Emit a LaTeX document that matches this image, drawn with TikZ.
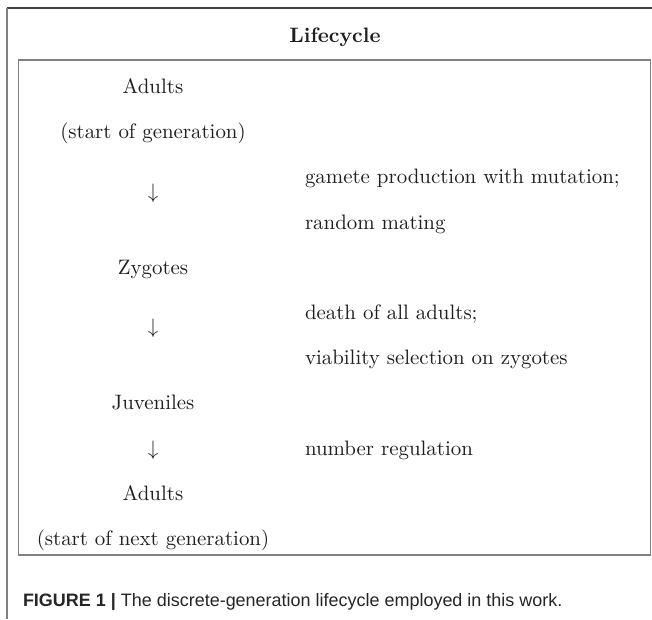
\documentclass[tikz,border=0pt]{standalone}
\usepackage{fontspec}
\newfontfamily\capfont{Liberation Sans}
\begin{document}
\begin{tikzpicture}[x=0.4785pt,y=-0.4785pt,
  every node/.style={inner sep=0pt, outer sep=0pt, text=black!88},
  stage/.style={anchor=base},
  note/.style={anchor=base west},
  outerline/.style={line width=0.7pt},
  innerbox/.style={draw=black!50, line width=0.75pt}]
\useasboundingbox (0,0) rectangle (652,619);
\fill[white] (0,0) rectangle (652,619);
% outer frame
\coordinate (ftr) at (652,8);
\coordinate (ftl) at (7,8);
\coordinate (fbl) at (7,619);
\draw[outerline, draw=black!75] (ftr) -- (ftl);
\draw[outerline, draw=black!50] (ftl) -- (fbl);
% title
\node[stage, font=\bfseries] (title) at (335,42) {Lifecycle};
% inner box
\draw[innerbox] (18.5,60) rectangle (650.5,555);
% left column
\node[stage] (a1)  at (153,93)  {Adults};
\node[stage] (a1s) at (153,138) {(start of generation)};
\node[stage] (ar1) at (153,198) {$\downarrow$};
\node[stage] (zy)  at (153,274) {Zygotes};
\node[stage] (ar2) at (153,333) {$\downarrow$};
\node[stage] (ju)  at (153,409) {Juveniles};
\node[stage] (ar3) at (153,455) {$\downarrow$};
\node[stage] (a2)  at (153,500) {Adults};
\node[stage] (a2s) at (153,545) {(start of next generation)};
% right column
\node[note] (n1) at (305,183) {gamete production with mutation;};
\node[note] (n2) at (305,229) {random mating};
\node[note] (n3) at (305,319) {death of all adults;};
\node[note] (n4) at (305,364) {viability selection on zygotes};
\node[note] (n5) at (305,455) {number regulation};
% caption
\node[note, text=black!85, font=\capfont\fontsize{8.6}{10}\selectfont] (cap) at (23,606)
  {\textbf{FIGURE 1 |} The discrete-generation lifecycle employed in this work.};
\end{tikzpicture}
\end{document}
